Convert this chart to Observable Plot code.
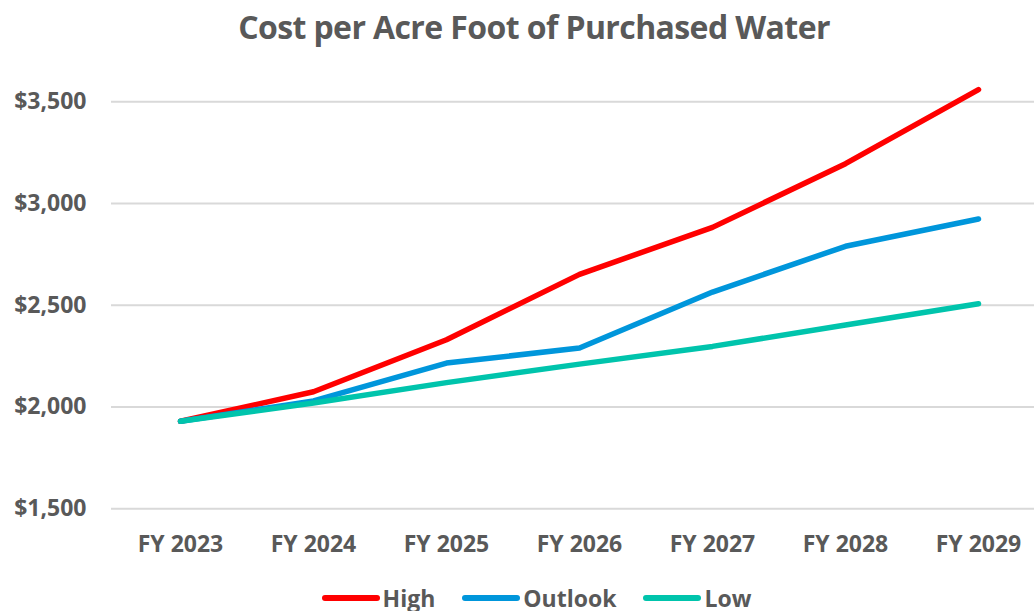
<!DOCTYPE html>
<html>
<head>
<meta charset="utf-8">
<script src="https://cdn.jsdelivr.net/npm/d3@7"></script>
<script src="https://cdn.jsdelivr.net/npm/@observablehq/plot@0.6"></script>
<style>
  html, body { margin: 0; padding: 0; background: #fff; overflow: hidden; }
  body { width: 1034px; height: 611px; position: relative; font-family: "Open Sans", sans-serif; color: #595959; }
  #title { position: absolute; top: 0; left: 17px; width: 1034px; text-align: center; font-weight: 700; font-size: 32px; line-height: 54px; letter-spacing: -0.6px; }
  #chart { position: absolute; top: 60px; left: 0; }
  #legend { position: absolute; top: 582px; left: 19px; width: 1034px; display: flex; justify-content: center; align-items: center; font-weight: 700; font-size: 23px; line-height: 32px; }
  .item { display: flex; align-items: center; margin: 0 13px; }
  .item svg { margin-right: 2px; }
</style>
</head>
<body>
<div id="title">Cost per Acre Foot of Purchased Water</div>
<div id="chart"></div>
<div id="legend"></div>
<script>
const years = ["FY 2023", "FY 2024", "FY 2025", "FY 2026", "FY 2027", "FY 2028", "FY 2029"];
const high    = [1930, 2075, 2331, 2652, 2883, 3196, 3560];
const outlook = [1930, 2030, 2216, 2290, 2565, 2790, 2924];
const low     = [1930, 2020, 2120, 2211, 2298, 2403, 2508];
const seriesNames = ["High", "Outlook", "Low"];
const seriesColors = ["#FF0000", "#0096DB", "#00C4AC"];
const yTicks = [1500, 2000, 2500, 3000, 3500];

const seriesValues = [high, outlook, low];
const data = [];
seriesNames.forEach((s, i) => years.forEach((y, j) => data.push({series: s, year: y, value: seriesValues[i][j]})));

const chart = Plot.plot({
  width: 1034,
  height: 510,
  marginLeft: 111,
  marginRight: 0,
  marginTop: 0,
  marginBottom: 61.7,
  style: { fontFamily: "Open Sans, sans-serif", fontSize: "23px", fontWeight: "700", color: "#595959", background: "transparent" },
  x: { type: "point", domain: years, range: [178, 980], padding: 0, label: null },
  y: { domain: [1500, 3500], range: [448.3, 41.3], label: null },
  color: { domain: seriesNames, range: seriesColors },
  marks: [
    Plot.gridY(yTicks, { stroke: "#D9D9D9", strokeOpacity: 1, strokeWidth: 2 }),
    Plot.axisY(yTicks, { tickSize: 0, tickPadding: 25, tickFormat: d3.format("$,"), label: null }),
    Plot.axisX({ tickSize: 0, tickPadding: 27, label: null }),
    Plot.line(data, { x: "year", y: "value", z: "series", stroke: "series", strokeWidth: 5.5, strokeLinecap: "round", strokeLinejoin: "round" })
  ]
});
document.getElementById("chart").appendChild(chart);

const legend = document.getElementById("legend");
seriesNames.forEach((s, i) => {
  const item = document.createElement("div");
  item.className = "item";
  item.innerHTML = `<svg width="60" height="12"><line x1="4" x2="56" y1="6" y2="6" stroke="${seriesColors[i]}" stroke-width="6" stroke-linecap="round"/></svg><span>${s}</span>`;
  legend.appendChild(item);
});
</script>
</body>
</html>
